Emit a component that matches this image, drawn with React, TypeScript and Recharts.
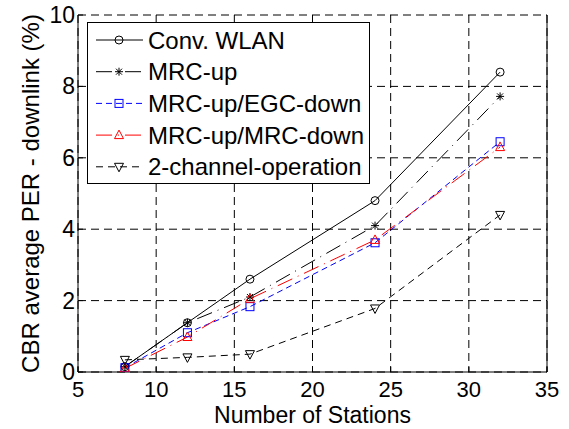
import { LineChart, Line, XAxis, YAxis, CartesianGrid, ReferenceLine, Legend } from 'recharts';

const stations = [8, 12, 16, 24, 32];
const convWlan = [0.15, 1.38, 2.6, 4.8, 8.4];
const mrcUp = [0.15, 1.38, 2.1, 4.1, 7.72];
const mrcUpEgcDown = [0.12, 1.1, 1.83, 3.62, 6.45];
const mrcUpMrcDown = [0.1, 0.98, 2.05, 3.7, 6.3];
const twoChannel = [0.34, 0.41, 0.5, 1.78, 4.4];

const xTicks = [5, 10, 15, 20, 25, 30, 35];
const yTicks = [0, 2, 4, 6, 8, 10];

const FONT = '"Liberation Sans", Arial, sans-serif';

const data = stations.map((s, i) => ({
  s,
  conv: convWlan[i],
  mrcUp: mrcUp[i],
  egc: mrcUpEgcDown[i],
  mrc: mrcUpMrcDown[i],
  two: twoChannel[i],
}));

type Marker = 'circle' | 'star' | 'square' | 'up' | 'down';

function drawMarker(kind: Marker, cx: number, cy: number, color: string, key?: string) {
  const p = { fill: 'none', stroke: color, strokeWidth: 1 };
  if (kind === 'circle') return <circle key={key} cx={cx} cy={cy} r={4} {...p} />;
  if (kind === 'square') return <rect key={key} x={cx - 4} y={cy - 4} width={8} height={8} {...p} />;
  if (kind === 'up')
    return <polygon key={key} points={`${cx},${cy - 5} ${cx + 4.5},${cy + 3.5} ${cx - 4.5},${cy + 3.5}`} {...p} />;
  if (kind === 'down')
    return <polygon key={key} points={`${cx},${cy + 5} ${cx + 4.5},${cy - 3.5} ${cx - 4.5},${cy - 3.5}`} {...p} />;
  return (
    <g key={key} stroke={color} strokeWidth={1}>
      <line x1={cx - 4} y1={cy} x2={cx + 4} y2={cy} />
      <line x1={cx} y1={cy - 4} x2={cx} y2={cy + 4} />
      <line x1={cx - 3} y1={cy - 3} x2={cx + 3} y2={cy + 3} />
      <line x1={cx - 3} y1={cy + 3} x2={cx + 3} y2={cy - 3} />
    </g>
  );
}

const series: { key: string; name: string; color: string; dash?: string; marker: Marker }[] = [
  { key: 'conv', name: 'Conv. WLAN', color: '#000', marker: 'circle' },
  { key: 'mrcUp', name: 'MRC-up', color: '#000', dash: '16 6 1 6', marker: 'star' },
  { key: 'egc', name: 'MRC-up/EGC-down', color: '#0000ff', dash: '6 4', marker: 'square' },
  { key: 'mrc', name: 'MRC-up/MRC-down', color: '#ff0000', dash: '16 6 1 6', marker: 'up' },
  { key: 'two', name: '2-channel-operation', color: '#000', dash: '7 5', marker: 'down' },
];

const XTick = ({ x, y, payload }: any) => (
  <g>
    <line x1={x} y1={y} x2={x} y2={y - 5} stroke="#000" />
    <text x={x} y={y + 25} textAnchor="middle" fontSize={22} fontFamily={FONT} fill="#000">
      {payload.value}
    </text>
  </g>
);

const YTick = ({ x, y, payload }: any) => (
  <g>
    <line x1={x} y1={y} x2={x + 5} y2={y} stroke="#000" />
    <text x={x - 3} y={y + 8} textAnchor="end" fontSize={23} fontFamily={FONT} fill="#000">
      {payload.value}
    </text>
  </g>
);

function LegendBox() {
  return (
    <div style={{ width: 281, height: 160, border: '1px solid #000', background: '#fff' }}>
      <svg width={281} height={160}>
        {series.map((s, i) => {
          const cy = 17 + i * 31.7;
          return (
            <g key={s.key}>
              <line x1={8} x2={55} y1={cy} y2={cy} stroke={s.color} strokeDasharray={s.dash} />
              {drawMarker(s.marker, 31, cy, s.color)}
              <text x={60} y={cy + 8.5} fontSize={24} fontFamily={FONT} fill="#000">
                {s.name}
              </text>
            </g>
          );
        })}
      </svg>
    </div>
  );
}

export default function App() {
  return (
    <div style={{ position: 'absolute', left: 0, top: 0, background: '#fff' }}>
      <LineChart width={569} height={429} data={data} margin={{ top: 15, right: 22, bottom: 0, left: 0 }}>
        <CartesianGrid stroke="#000" strokeDasharray="8 5" />
        <XAxis
          dataKey="s"
          type="number"
          domain={[5, 35]}
          ticks={xTicks}
          height={57}
          tickSize={0}
          tickMargin={0}
          tick={<XTick />}
          stroke="#000"
          allowDataOverflow
          label={({ viewBox }: any) => (
            <text
              x={viewBox.x + viewBox.width / 2}
              y={viewBox.y + 51}
              textAnchor="middle"
              fontSize={23}
              fontFamily={FONT}
              fill="#000"
            >
              Number of Stations
            </text>
          )}
        />
        <YAxis
          type="number"
          domain={[0, 10]}
          ticks={yTicks}
          width={78}
          tickSize={0}
          tickMargin={0}
          tick={<YTick />}
          stroke="#000"
          allowDataOverflow
          label={({ viewBox }: any) => {
            const cy = viewBox.y + viewBox.height / 2;
            return (
              <text
                x={39}
                y={cy}
                transform={`rotate(-90, 39, ${cy})`}
                textAnchor="middle"
                fontSize={24}
                fontFamily={FONT}
                fill="#000"
              >
                CBR average PER - downlink (%)
              </text>
            );
          }}
        />
        <ReferenceLine x={35} stroke="#000" />
        {series.map((s) => (
          <Line
            key={s.key}
            dataKey={s.key}
            name={s.name}
            stroke={s.color}
            strokeWidth={1}
            strokeDasharray={s.dash}
            isAnimationActive={false}
            dot={(props: any) => drawMarker(s.marker, props.cx, props.cy, s.color, `${s.key}-${props.index}`)}
            activeDot={false}
          />
        ))}
        <Legend
          layout="vertical"
          align="center"
          verticalAlign="middle"
          content={() => <LegendBox />}
          wrapperStyle={{ left: 87, top: 22, width: 283, height: 162 }}
        />
      </LineChart>
    </div>
  );
}
